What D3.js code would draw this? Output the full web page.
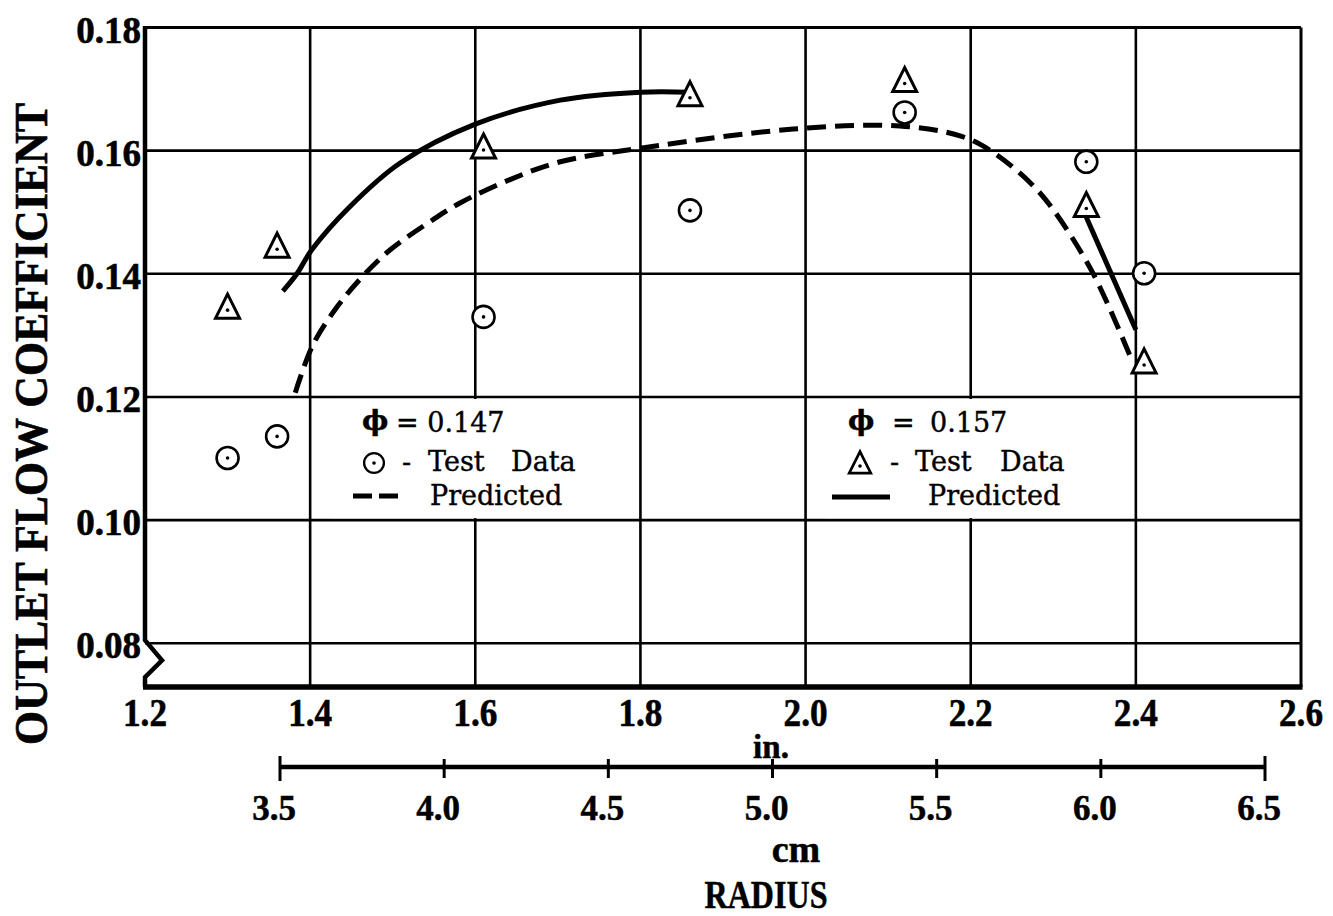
<!DOCTYPE html>
<html>
<head>
<meta charset="utf-8">
<script src="https://cdn.jsdelivr.net/npm/d3@7"></script>
<style>
  html, body { margin: 0; padding: 0; background: #fff; }
  svg { display: block; }
</style>
</head>
<body>
<svg id="chart" width="1333" height="916"></svg>
<script>
// Radius (in.) grid and tick values
const radiusTicksIn = [1.2, 1.4, 1.6, 1.8, 2.0, 2.2, 2.4, 2.6];
const radiusTicksCm = [3.5, 4.0, 4.5, 5.0, 5.5, 6.0, 6.5];
const coeffTicks = [0.08, 0.10, 0.12, 0.14, 0.16, 0.18];

// Test data, both flow coefficients measured at the same radii
const testRadius = [1.30, 1.36, 1.61, 1.86, 2.12, 2.34, 2.41];
const testPhi147 = [0.1101, 0.1136, 0.1330, 0.1503, 0.1662, 0.1582, 0.1401];
const testPhi157 = [0.1341, 0.1440, 0.1601, 0.1686, 0.1709, 0.1506, 0.1252];

// Predicted, phi = 0.147 (dashed)
const predRadius147 = [1.382, 1.4035, 1.4325, 1.463, 1.497, 1.549, 1.5815, 1.642, 1.703, 1.80, 1.985, 2.114, 2.187, 2.223, 2.272, 2.30, 2.348, 2.395];
const predCoeff147  = [0.1207, 0.1285, 0.1346, 0.1395, 0.1439, 0.1488, 0.1515, 0.1553, 0.1582, 0.1604, 0.1635, 0.1640, 0.1624, 0.1601, 0.1548, 0.1504, 0.1401, 0.1260];

// Predicted, phi = 0.157 (solid), inner and outer segments
const predRadius157a = [1.367, 1.384, 1.402, 1.448, 1.509, 1.600, 1.703, 1.800, 1.858];
const predCoeff157a  = [0.1372, 0.1400, 0.1439, 0.1509, 0.1580, 0.1643, 0.1682, 0.1695, 0.1695];
const predRadius157b = [2.340, 2.400];
const predCoeff157b  = [0.1492, 0.1309];

const svg = d3.select("#chart");
const serif = "'Liberation Serif', 'Times New Roman', serif";
const legendFont = "'DejaVu Serif', serif";

const x = d3.scaleLinear().domain([1.2, 2.6]).range([145, 1301]);
const y = d3.scaleLinear().domain([0.0729, 0.18]).range([687, 27.5]);
const xCm = d3.scaleLinear().domain([3.5, 6.5]).range([280, 1265]);

const x0 = x.range()[0], x1 = x.range()[1];
const yTop = y(0.18), yBot = y.range()[0];

// Grid
const grid = svg.append("g").attr("stroke", "#000").attr("stroke-width", 2.6);
grid.selectAll("line.v").data(radiusTicksIn.slice(1, -1)).join("line")
  .attr("x1", d => x(d)).attr("x2", d => x(d))
  .attr("y1", yTop).attr("y2", yBot);
grid.selectAll("line.h").data(coeffTicks.slice(0, -1)).join("line")
  .attr("x1", x0).attr("x2", x1)
  .attr("y1", d => y(d)).attr("y2", d => y(d));

// Frame: top and right thin, bottom and left heavy with a break symbol
svg.append("line").attr("x1", x0).attr("x2", x1).attr("y1", yTop).attr("y2", yTop)
  .attr("stroke", "#000").attr("stroke-width", 3.2);
svg.append("line").attr("x1", x1).attr("x2", x1).attr("y1", yTop).attr("y2", yBot)
  .attr("stroke", "#000").attr("stroke-width", 3);
svg.append("line").attr("x1", x0 - 2).attr("x2", x1 + 1.5).attr("y1", yBot).attr("y2", yBot)
  .attr("stroke", "#000").attr("stroke-width", 5.5);
const yb = y(0.08);
svg.append("path")
  .attr("d", `M${x0},${yTop - 1.5} L${x0},${yb - 3} L${x0 + 17},${yb + 17} L${x0},${yb + 34} L${x0},${yBot}`)
  .attr("fill", "none").attr("stroke", "#000").attr("stroke-width", 4.5)
  .attr("stroke-linejoin", "miter");

// Legend backgrounds hide the grid behind the key text
svg.append("rect").attr("x", 332).attr("y", y(0.12) + 2).attr("width", 304)
  .attr("height", y(0.10) - y(0.12) - 4).attr("fill", "#fff");
svg.append("rect").attr("x", 826).attr("y", y(0.12) + 2).attr("width", 295)
  .attr("height", y(0.10) - y(0.12) - 4).attr("fill", "#fff");

// Predicted curves
const line = d3.line().x(d => x(d[0])).y(d => y(d[1])).curve(d3.curveCatmullRom.alpha(0.5));
svg.append("path")
  .datum(d3.zip(predRadius147, predCoeff147))
  .attr("d", line).attr("fill", "none").attr("stroke", "#000")
  .attr("stroke-width", 5).attr("stroke-dasharray", "19,9");
svg.append("path")
  .datum(d3.zip(predRadius157a, predCoeff157a))
  .attr("d", line).attr("fill", "none").attr("stroke", "#000").attr("stroke-width", 5);
svg.append("path")
  .datum(d3.zip(predRadius157b, predCoeff157b))
  .attr("d", line).attr("fill", "none").attr("stroke", "#000").attr("stroke-width", 5);

// Markers
function circleMark(g) {
  g.append("circle").attr("r", 11).attr("fill", "#fff").attr("stroke", "#000").attr("stroke-width", 2.6);
  g.append("circle").attr("r", 1.8).attr("fill", "#000");
}
function triangleMark(g) {
  // centroid at origin
  g.append("path").attr("d", "M0,-16 L12,8 L-12,8 Z")
    .attr("fill", "#fff").attr("stroke", "#000").attr("stroke-width", 3).attr("stroke-linejoin", "miter");
  g.append("circle").attr("r", 1.8).attr("fill", "#000");
}
svg.append("g").selectAll("g").data(d3.zip(testRadius, testPhi147)).join("g")
  .attr("transform", d => `translate(${x(d[0])},${y(d[1])})`)
  .each(function () { circleMark(d3.select(this)); });
svg.append("g").selectAll("g").data(d3.zip(testRadius, testPhi157)).join("g")
  .attr("transform", d => `translate(${x(d[0])},${y(d[1])})`)
  .each(function () { triangleMark(d3.select(this)); });

// Y tick labels
svg.append("g").selectAll("text").data(coeffTicks).join("text")
  .attr("x", 141).attr("y", d => y(d) + 15)
  .attr("text-anchor", "end")
  .attr("font-family", serif).attr("font-weight", "bold").attr("font-size", 37)
  .attr("stroke", "#000").attr("stroke-width", 0.6)
  .text(d => d3.format(".2f")(d));

// X tick labels (in.)
svg.append("g").selectAll("text").data(radiusTicksIn).join("text")
  .attr("x", d => x(d) - 22).attr("y", 726)
  .attr("font-family", serif).attr("font-weight", "bold").attr("font-size", 41)
  .attr("stroke", "#000").attr("stroke-width", 0.6)
  .attr("textLength", 44).attr("lengthAdjust", "spacingAndGlyphs")
  .text(d => d3.format(".1f")(d));

// Centimetre scale
const cmAxis = svg.append("g");
cmAxis.append("line").attr("x1", xCm(3.5)).attr("x2", xCm(6.5)).attr("y1", 767).attr("y2", 767)
  .attr("stroke", "#000").attr("stroke-width", 4.5);
cmAxis.selectAll("line.t").data(radiusTicksCm).join("line")
  .attr("x1", d => xCm(d)).attr("x2", d => xCm(d))
  .attr("y1", (d, i) => (i === 0 || i === radiusTicksCm.length - 1) ? 756 : 759)
  .attr("y2", (d, i) => (i === 0 || i === radiusTicksCm.length - 1) ? 781 : 778)
  .attr("stroke", "#000").attr("stroke-width", 3);
cmAxis.selectAll("text").data(radiusTicksCm).join("text")
  .attr("x", d => xCm(d) - 6).attr("y", 820)
  .attr("text-anchor", "middle")
  .attr("font-family", serif).attr("font-weight", "bold").attr("font-size", 35)
  .attr("stroke", "#000").attr("stroke-width", 0.5)
  .text(d => d3.format(".1f")(d));

// Axis titles
svg.append("text").attr("x", 771).attr("y", 758).attr("text-anchor", "middle")
  .attr("font-family", serif).attr("font-weight", "bold").attr("font-size", 33)
  .attr("stroke", "#000").attr("stroke-width", 0.5).text("in.");
svg.append("text").attr("x", 796).attr("y", 862).attr("text-anchor", "middle")
  .attr("font-family", serif).attr("font-weight", "bold").attr("font-size", 38)
  .attr("stroke", "#000").attr("stroke-width", 0.5).text("cm");
svg.append("text").attr("x", 766).attr("y", 908).attr("text-anchor", "middle")
  .attr("font-family", serif).attr("font-weight", "bold").attr("font-size", 40)
  .attr("stroke", "#000").attr("stroke-width", 0.5)
  .attr("textLength", 123).attr("lengthAdjust", "spacingAndGlyphs").text("RADIUS");
svg.append("text")
  .attr("transform", "translate(47,424) rotate(-90)")
  .attr("text-anchor", "middle")
  .attr("font-family", serif).attr("font-weight", "bold").attr("font-size", 46)
  .attr("stroke", "#000").attr("stroke-width", 0.6)
  .attr("textLength", 642).attr("lengthAdjust", "spacingAndGlyphs")
  .text("OUTLET FLOW COEFFICIENT");

// Legend, phi = 0.147
const leg1 = svg.append("g").attr("font-family", legendFont).attr("font-size", 27)
  .attr("stroke", "#000").attr("stroke-width", 0.4);
leg1.append("text").attr("x", 362).attr("y", 430).attr("font-weight", "bold").attr("font-size", 28).text("ϕ");
leg1.append("text").attr("x", 396).attr("y", 432).text("= 0.147");
circleMark(leg1.append("g").attr("transform", "translate(374,463) scale(0.9)"));
leg1.append("text").attr("x", 402).attr("y", 471).text("-");
leg1.append("text").attr("x", 428).attr("y", 471).text("Test");
leg1.append("text").attr("x", 511).attr("y", 471).text("Data");
leg1.append("line").attr("x1", 353).attr("x2", 399).attr("y1", 496).attr("y2", 496)
  .attr("stroke", "#000").attr("stroke-width", 5).attr("stroke-dasharray", "19,7");
leg1.append("text").attr("x", 430).attr("y", 505).text("Predicted");

// Legend, phi = 0.157
const leg2 = svg.append("g").attr("font-family", legendFont).attr("font-size", 27)
  .attr("stroke", "#000").attr("stroke-width", 0.4);
leg2.append("text").attr("x", 848).attr("y", 430).attr("font-weight", "bold").attr("font-size", 28).text("ϕ");
leg2.append("text").attr("x", 892).attr("y", 432).text("=");
leg2.append("text").attr("x", 930).attr("y", 432).text("0.157");
triangleMark(leg2.append("g").attr("transform", "translate(860,466) scale(0.9)"));
leg2.append("text").attr("x", 890).attr("y", 471).text("-");
leg2.append("text").attr("x", 915).attr("y", 471).text("Test");
leg2.append("text").attr("x", 1000).attr("y", 471).text("Data");
leg2.append("line").attr("x1", 832).attr("x2", 890).attr("y1", 497).attr("y2", 497)
  .attr("stroke", "#000").attr("stroke-width", 5);
leg2.append("text").attr("x", 928).attr("y", 505).text("Predicted");
</script>
</body>
</html>
